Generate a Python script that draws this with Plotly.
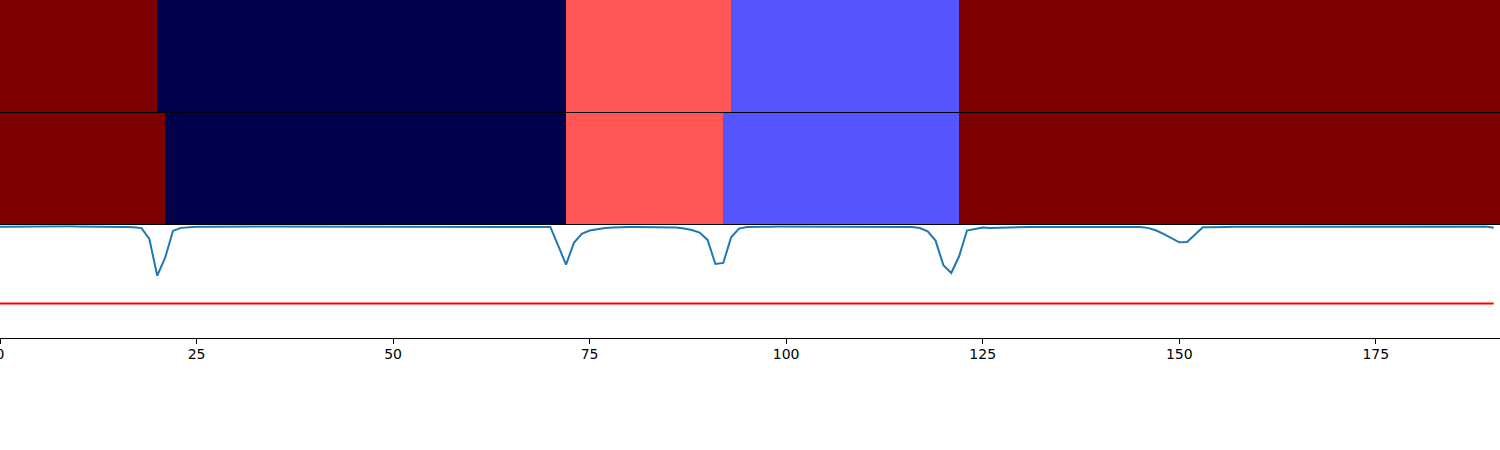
import plotly.graph_objects as go

# segment edges and class values (seismic colormap, 0..1) for the two label rows
row1_edges = [0, 20, 72, 93, 122, 191]
row1_vals = [1.0, 0.0, 0.667, 0.333, 1.0]
row2_edges = [0, 21, 72, 92, 122, 191]
row2_vals = [1.0, 0.0, 0.667, 0.333, 1.0]

# score per frame (x = 0..190)
score = [
    0.988, 0.989, 0.990, 0.990, 0.990, 0.991, 0.991, 0.991, 0.991, 0.991,
    0.990, 0.990, 0.989, 0.989, 0.988, 0.987, 0.985, 0.982, 0.975, 0.878,
    0.553, 0.710, 0.950, 0.977, 0.984, 0.987, 0.988, 0.989, 0.989, 0.990,
    0.990, 0.990, 0.991, 0.991, 0.990, 0.990, 0.990, 0.991, 0.990, 0.990,
    0.990, 0.989, 0.989, 0.990, 0.990, 0.990, 0.990, 0.989, 0.989, 0.990,
    0.990, 0.990, 0.990, 0.989, 0.989, 0.988, 0.989, 0.990, 0.990, 0.990,
    0.989, 0.989, 0.989, 0.990, 0.991, 0.991, 0.990, 0.990, 0.990, 0.989,
    0.985, 0.820, 0.651, 0.844, 0.924, 0.953, 0.967, 0.975, 0.980, 0.984,
    0.985, 0.985, 0.984, 0.986, 0.986, 0.985, 0.980, 0.972, 0.958, 0.935,
    0.870, 0.657, 0.666, 0.893, 0.971, 0.985, 0.988, 0.988, 0.988, 0.989,
    0.989, 0.989, 0.989, 0.989, 0.989, 0.990, 0.990, 0.989, 0.989, 0.989,
    0.988, 0.989, 0.989, 0.990, 0.990, 0.988, 0.985, 0.975, 0.947, 0.864,
    0.645, 0.577, 0.725, 0.953, 0.965, 0.980, 0.976, 0.978, 0.984, 0.985,
    0.985, 0.985, 0.985, 0.985, 0.985, 0.985, 0.985, 0.985, 0.985, 0.985,
    0.985, 0.985, 0.985, 0.985, 0.985, 0.984, 0.977, 0.956, 0.923, 0.888,
    0.849, 0.852, 0.917, 0.982, 0.983, 0.981, 0.985, 0.986, 0.986, 0.986,
    0.986, 0.986, 0.986, 0.986, 0.986, 0.986, 0.986, 0.986, 0.986, 0.986,
    0.987, 0.987, 0.987, 0.986, 0.986, 0.987, 0.987, 0.987, 0.987, 0.987,
    0.987, 0.987, 0.987, 0.987, 0.987, 0.987, 0.987, 0.987, 0.987, 0.989,
    0.978,
]
frames = list(range(len(score)))
threshold = 0.307
tick_vals = [0, 25, 50, 75, 100, 125, 150, 175]

seismic = [
    [0.0, "rgb(0,0,76)"],
    [0.25, "rgb(0,0,255)"],
    [0.5, "rgb(255,255,255)"],
    [0.75, "rgb(255,0,0)"],
    [1.0, "rgb(127,0,0)"],
]

fig = go.Figure()
fig.add_trace(go.Heatmap(z=[row1_vals], x=row1_edges, colorscale=seismic,
                         zmin=0, zmax=1, showscale=False, xaxis="x", yaxis="y"))
fig.add_trace(go.Heatmap(z=[row2_vals], x=row2_edges, colorscale=seismic,
                         zmin=0, zmax=1, showscale=False, xaxis="x2", yaxis="y2"))
fig.add_trace(go.Scatter(x=frames, y=score, mode="lines",
                         line=dict(color="#1f77b4", width=2), xaxis="x3", yaxis="y3"))
fig.add_trace(go.Scatter(x=frames, y=[threshold] * len(frames), mode="lines",
                         line=dict(color="red", width=2), xaxis="x3", yaxis="y3"))

xrange = [0, 190.8]
hidden_y = dict(showticklabels=False, ticks="", showgrid=False, zeroline=False,
                showline=True, linecolor="black", linewidth=1, automargin=False)

fig.update_layout(
    width=1500, height=450,
    margin=dict(l=0, r=0, t=0, b=112, autoexpand=False),
    paper_bgcolor="white", plot_bgcolor="white",
    showlegend=False,
    font=dict(family="DejaVu Sans", size=14, color="black"),
    xaxis=dict(domain=[0, 1], range=xrange, anchor="y", side="top",
               showticklabels=False, ticks="", showgrid=False, zeroline=False,
               showline=True, linecolor="black", linewidth=1, automargin=False),
    yaxis=dict(domain=[0.669, 1], anchor="x", **hidden_y),
    xaxis2=dict(domain=[0, 1], range=xrange, anchor="y2", side="top",
                showticklabels=False, ticks="", showgrid=False, zeroline=False,
                showline=True, linecolor="black", linewidth=1, automargin=False),
    yaxis2=dict(domain=[0.3335, 0.666], anchor="x2", **hidden_y),
    xaxis3=dict(domain=[0, 1], range=xrange, anchor="y3",
                tickvals=tick_vals, ticks="outside", ticklen=5, tickcolor="black",
                ticklabeloverflow="allow", ticklabelstandoff=-2, automargin=False,
                showgrid=False, zeroline=False, showline=True, mirror=True,
                linecolor="black", linewidth=1),
    yaxis3=dict(domain=[0, 0.3335], anchor="x3", range=[0, 1], **hidden_y),
)

# page body has a default 8px margin; drop it so the figure sits at the window corner
fig.write_html("out.html", config={"displayModeBar": False},
               post_script="document.body.style.margin='0';")
